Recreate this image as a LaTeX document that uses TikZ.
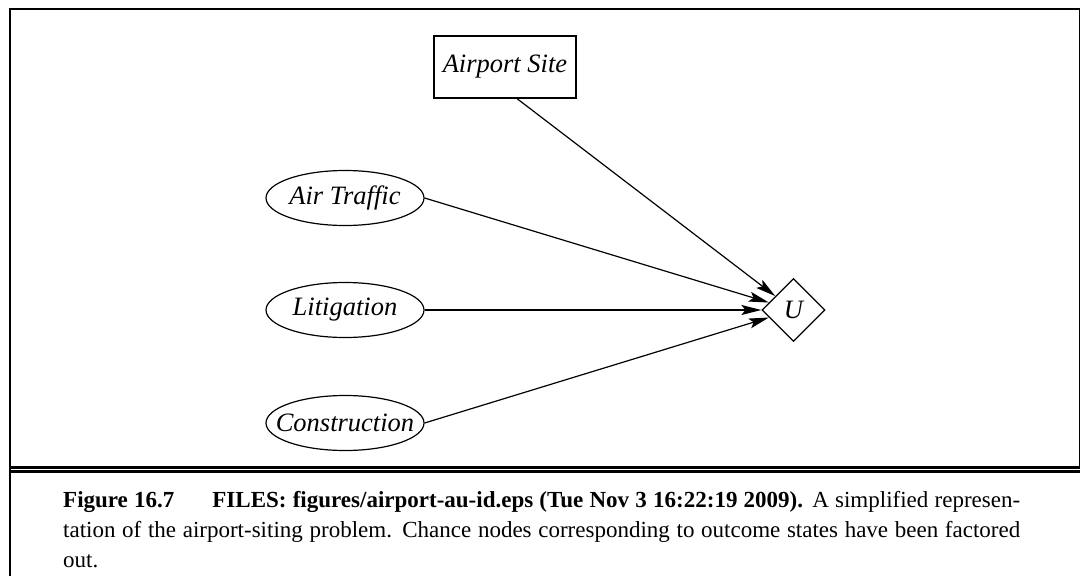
\documentclass[tikz,border=0pt]{standalone}
\usepackage{fontspec}
\setmainfont{Liberation Serif}
\usetikzlibrary{shapes.geometric,arrows.meta}
\begin{document}
\begin{tikzpicture}[x=1pt,y=-1pt,
  lbl/.style={font=\fontsize{26.5}{30}\selectfont\itshape},
  chance/.style={ellipse,draw,line width=1.2pt,minimum width=158pt,minimum height=55pt,inner ysep=0pt,inner xsep=-45pt,lbl},
  decision/.style={rectangle,draw,line width=1.2pt,minimum width=142pt,minimum height=62pt,inner sep=0pt,lbl},
  utility/.style={diamond,draw,line width=1.2pt,minimum width=63pt,minimum height=63pt,inner sep=0pt,aspect=1,lbl},
  link/.style={line width=1.2pt,-{Stealth[length=20pt,width=10pt,inset=4pt]}},
  frame/.style={line width=2pt},
  rule/.style={line width=3pt}]
\useasboundingbox (0,0) rectangle (1080,576);
% frame
\draw[frame] (9,9) -- (1080,9);
\draw[frame] (10,8) -- (10,576);
\draw[line width=1.5pt] (1079.25,8) -- (1079.25,466);
\draw[rule] (10,467.5) -- (1080,467.5);
\draw[rule] (10,471.8) -- (1080,471.8);
% nodes
\node[decision] (site) at (505,67) {Airport Site};
\node[chance] (air) at (345,198) {Air Traffic};
\node[chance] (lit) at (345,310) {Litigation};
\node[chance] (con) at (345,423) {Construction};
\node[utility] (U) at (793.5,310) {U};
% links
\draw[link] ([xshift=12pt]site.south) -- (U);
\draw[link] (air.east) -- (U);
\draw[link] (lit) -- (U);
\draw[link] (con.east) -- (U);
% caption
\node[anchor=base west,text width=957pt,align=justify,inner sep=0pt,
  font=\fontsize{23}{30}\selectfont] (cap) at (63,507)
  {\textbf{Figure 16.7\hspace{38pt}FILES: figures/airport-au-id.eps (Tue Nov 3 16:22:19 2009).} A simplified represen-\linebreak tation of the airport-siting problem. Chance nodes corresponding to outcome states have been factored\linebreak out.};
\end{tikzpicture}
\end{document}
